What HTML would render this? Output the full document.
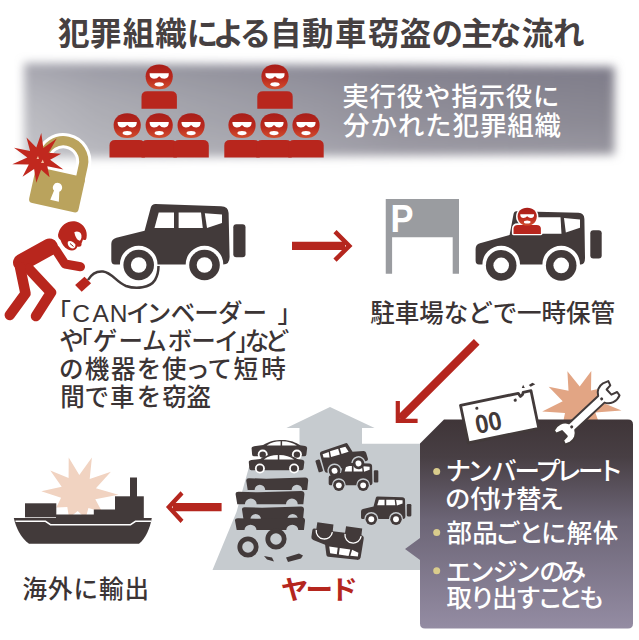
<!DOCTYPE html>
<html lang="ja">
<head>
<meta charset="utf-8">
<title>犯罪組織による自動車窃盗の主な流れ</title>
<style>
html,body{margin:0;padding:0;background:#fff;}
body{width:639px;height:640px;overflow:hidden;position:relative;}
svg{display:block;position:absolute;left:0;top:0;}
text{font-family:"Liberation Sans","Noto Sans CJK JP",sans-serif;}
.ttl{font-weight:700;font-size:31.5px;fill:#464041;}
.b{font-weight:500;font-size:24.5px;fill:#3b3435;}
.w{font-weight:500;font-size:25.5px;fill:#fff;}
.bn{font-weight:500;font-size:26.5px;fill:#fff;}
.yd{font-weight:700;font-size:26.5px;fill:#b5261e;}
.red{fill:#b8261d;}
.dk{fill:#423a3a;}
</style>
</head>
<body>
<svg width="639" height="640" viewBox="0 0 639 640">
<defs>
<linearGradient id="gBanner" x1="0" y1="0" x2="1" y2="0">
<stop offset="0" stop-color="#babac0"/>
<stop offset="0.12" stop-color="#adadb4"/>
<stop offset="0.3" stop-color="#a2a2aa"/>
<stop offset="0.5" stop-color="#9897a1"/>
<stop offset="0.64" stop-color="#8e8c97"/>
<stop offset="1" stop-color="#878590"/>
</linearGradient>
<linearGradient id="gBanT" x1="0" y1="0" x2="0" y2="1">
<stop offset="0" stop-color="#55536a" stop-opacity="0.2"/>
<stop offset="0.35" stop-color="#55536a" stop-opacity="0.04"/>
<stop offset="0.6" stop-color="#fff" stop-opacity="0.03"/>
<stop offset="1" stop-color="#fff" stop-opacity="0.16"/>
</linearGradient>
<linearGradient id="gBanV" x1="0" y1="0" x2="1" y2="1">
<stop offset="0" stop-color="#fff" stop-opacity="0.25"/>
<stop offset="0.45" stop-color="#fff" stop-opacity="0"/>
<stop offset="1" stop-color="#fff" stop-opacity="0"/>
</linearGradient>
<filter id="blur5" x="-10%" y="-30%" width="120%" height="160%"><feGaussianBlur stdDeviation="5"/></filter>
<filter id="blur2" x="-20%" y="-20%" width="140%" height="140%"><feGaussianBlur stdDeviation="2"/></filter>
<linearGradient id="gBox" x1="0" y1="0" x2="0" y2="1">
<stop offset="0" stop-color="#3f3538"/>
<stop offset="0.18" stop-color="#483f44"/>
<stop offset="0.48" stop-color="#6c6576"/>
<stop offset="1" stop-color="#948ca3"/>
</linearGradient>
<linearGradient id="gHead" x1="0" y1="0" x2="0" y2="1">
<stop offset="0" stop-color="#a81e19"/>
<stop offset="0.55" stop-color="#ba281d"/>
<stop offset="1" stop-color="#d24e2e"/>
</linearGradient>
<g id="thief">
<path d="M-17.7,32 V20 Q-17.7,14.5 -12,14.5 H12 Q17.7,14.5 17.7,20 V32 Z" fill="#b8261d"/>
<path d="M0,-12.3 C8.7,-12.3 13.6,-7 13.6,-0.5 C13.6,7.3 8.7,12.6 0,12.6 C-8.7,12.6 -13.6,7.3 -13.6,-0.5 C-13.6,-7 -8.7,-12.3 0,-12.3Z" fill="url(#gHead)"/>
<path d="M-9.6,-3.4 H9.6 Q9.8,1.8 5.2,2 Q2,2 0,-0.5 Q-2,2 -5.2,2 Q-9.8,1.8 -9.6,-3.4Z" fill="#fff"/>
<ellipse cx="0" cy="7.6" rx="4.6" ry="2.1" fill="#fff"/>
</g>
<g id="carbody">
<path d="M155.5,204 L221,206.2 Q228.4,206.5 228.6,213 L229.6,257 Q229.6,264.3 223.3,264.5 A18.8,18.8 0 0 0 185.7,264.5 L157.5,264.5 A18.8,18.8 0 0 0 119.9,264.5 L115,264.5 Q111.3,264.5 111.3,260 L111.3,244 Q111.3,239.3 116.4,237.8 L144.6,230.8 L150.8,207.5 Q151.8,204 155.5,204 Z" fill="#423a3a"/>
<circle cx="138.7" cy="265" r="15.3" fill="#423a3a"/>
<circle cx="204.5" cy="265" r="15.3" fill="#423a3a"/>
<circle cx="138.7" cy="265" r="7.8" fill="#fff"/>
<circle cx="204.5" cy="265" r="7.8" fill="#fff"/>
<rect x="233.3" y="224.3" width="12.2" height="33" rx="3" fill="#423a3a"/>
</g>
<g id="car1">
<use href="#carbody"/>
<path d="M158.7,212.6 H174 V227.9 H154.5 Z" fill="#fff"/>
<path d="M178.6,212.6 H201 L202.8,227.9 H178.6 Z" fill="#fff"/>
<path d="M204.8,213.3 L222,214.5 V223 L207,228 Z" fill="#fff"/>
</g>
<g id="sedan">
<path d="M0.5,8.5 Q0,6.8 3,6.3 L12,5.2 C18,1.2 24,0 31,0 C39,0 45,2.5 49,5.3 L54,6 Q56.3,6.3 56,8.5 L55.3,14.5 Q55,16.4 53,16.4 L3,16.4 Q1.2,16.4 1,14.5 Z" fill="#423a3a"/>
<path d="M15.5,5.6 C20,2.4 24,1.3 29.5,1.3 V5.6 Z M31,1.3 C37,1.3 42,3 45.8,5.6 H31 Z" fill="#fff"/>
<circle cx="11.6" cy="14.7" r="5" fill="#fff"/><circle cx="45.8" cy="14.7" r="5" fill="#fff"/>
<circle cx="11.6" cy="14.7" r="3.2" fill="#423a3a"/><circle cx="45.8" cy="14.7" r="3.2" fill="#423a3a"/>
</g>
<g id="flat">
<path d="M0,3 Q0,0.5 3,0.7 L20,1.3 L59,0 Q62,0 62,3 L61,12.5 H56 A5.3,5.3 0 0 0 45.4,12.5 H19 A5.3,5.3 0 0 0 8.4,12.5 H1.5 Z" fill="#423a3a"/>
</g>
<g id="arrowR">
<path d="M0,-4.2 H53 V4.2 H0Z" fill="#b5261e"/>
<path d="M43,-14.3 L57.3,0 L43,14.3" fill="none" stroke="#b5261e" stroke-width="4.5"/>
</g>
</defs>
<rect width="639" height="640" fill="#fff"/>

<!-- title -->
<text class="ttl" x="57.9 90.1 122.8 155.2 186.8 212.7 239.8 270.0 302.1 335.1 368.1 399.8 431.6 461.2 489.7 521.8 553.1" y="44.5">犯罪組織による自動車窃盗の主な流れ</text>

<!-- banner -->
<g filter="url(#blur5)"><path d="M24,63 L614.5,66.5 V154.5 L24,158 Z" fill="url(#gBanner)"/><path d="M24,63 L614.5,66.5 V154.5 L24,158 Z" fill="url(#gBanT)"/></g>
<g id="grp1">
<use href="#thief" x="159.2" y="76.7"/>
<use href="#thief" x="127.2" y="125.5"/>
<use href="#thief" x="159.2" y="125.5"/>
<use href="#thief" x="191.1" y="125.5"/>
</g>
<g id="grp2">
<use href="#thief" x="275" y="76.7"/>
<use href="#thief" x="242" y="125.5"/>
<use href="#thief" x="274" y="125.5"/>
<use href="#thief" x="306" y="125.5"/>
</g>
<text class="bn" x="342.2 369.5 396.7 424.0 451.3 478.5 505.8 533.1" y="106.3">実行役や指示役に</text>
<text class="bn" x="343.0 370.4 397.8 425.1 452.5 479.9 507.3 534.6" y="134.5">分かれた犯罪組織</text>

<!-- lock -->
<g transform="translate(60.25,175.1) rotate(12.5)">
<g stroke="#fff" stroke-linejoin="round" fill="#fff">
<rect x="-25.3" y="-3" width="50.6" height="36.3" rx="4" stroke-width="6"/>
<path d="M-20.4,2 V-14.3 A20.4,20.4 0 0 1 20.4,-14.3 V2" fill="none" stroke-width="15.2"/>
</g>
<path d="M-20.4,2 V-14.3 A20.4,20.4 0 0 1 20.4,-14.3 V2" fill="none" stroke="#baa35d" stroke-width="9.2"/>
<rect x="-25.3" y="-3" width="50.6" height="36.3" rx="4" fill="#baa35d"/>
<path d="M0,8 a4.7,4.7 0 0 1 2.7,8.5 L4.4,26.3 H-4.4 L-2.7,16.5 A4.7,4.7 0 0 1 0,8Z" fill="#fff"/>
</g>
<polygon points="41.3,133.1 43.3,148.1 56.7,138.5 48.6,152.8 61.1,153.7 50.1,159.7 63.4,169.5 47.3,166.3 49.6,177.3 41.1,169.8 36.3,182.8 34.1,169.1 22.5,176.7 28.8,164.4 12.3,164.3 27.3,157.5 14.0,147.7 30.1,150.9 26.5,137.6 36.3,147.4" fill="#c1281e"/>
<path d="M36.5,159 l1.5,-3 l1,3z M41,163 l1.8,-3.5 l1.2,3.5z" fill="#f0c0a0"/>

<!-- thief person -->
<g fill="none" stroke="#b8261d" stroke-linecap="round" stroke-linejoin="round">
<path d="M49.5,247 L21.5,262.5" stroke-width="17"/>
<path d="M55.5,249.5 L65,264 L80.5,266.8" stroke-width="9"/>
<path d="M29,269 L51,292.5 L36,316" stroke-width="10.5"/>
<path d="M20,267 L25.5,293.5 L9.8,315" stroke-width="10.5"/>
</g>
<path d="M58.5,233 C61,224 69,220 76,221.5 C84,223.5 88,231 86.5,238 C86,240.5 84.5,240.5 83,239.5 L81.5,243.5 C82,246 80,247.5 77.5,246.5 C76,250.5 72,251.5 68,249.5 C64,247.5 62,244 60.5,240 C58,238 57.5,235.5 58.5,233 Z" fill="#b8261d"/>
<path d="M74.3,232.3 C76.5,230.8 79.5,231.5 81,233.8 C82,236.2 81.5,239 80,240.8 C77.5,240.5 75.5,238 74.3,232.3 Z" fill="#fff"/>
<path d="M68,241.5 C70,240 73.5,241.5 75.3,244.5 C76,247 74,249 71.5,248.3 C69,247.3 67,244.5 68,241.5 Z" fill="#fff"/>
<path d="M70,243.5 L73.5,246.5" stroke="#8a1f18" stroke-width="1" fill="none"/>
<polygon points="75.1,285.1 84.5,276.7 91.1,283.2 81.7,291.7" fill="#b8261d"/>
<path d="M88,280 C92,273 98,271 103,271.5 C112,272.5 116,282 126,286 C136,289.5 150,288 155,280 C158,275 158.5,270 158.5,266" fill="none" stroke="#423a3a" stroke-width="2.5"/>

<!-- car 1 -->
<use href="#car1"/>

<!-- arrow right -->
<use href="#arrowR" x="292" y="245.9"/>

<!-- parking -->
<path d="M385.75,198.9 H459 V273.8 H452.7 V237.2 H392.1 V273.8 H385.75 Z" fill="#9a9ca0"/>
<text x="390.6" y="232.3" font-size="39.5" font-weight="700" fill="#fff" textLength="23" lengthAdjust="spacingAndGlyphs">P</text>

<!-- car 2 -->
<path d="M516.5,211.3 L578.5,212.8 Q584.2,213.1 584.4,219 L585,258 Q585,264.3 581,264.5 L580,264.5 A18.8,18.8 0 0 0 542.4,264.5 L520,264.5 A18.8,18.8 0 0 0 482.4,264.5 L479,264.5 Q475.6,264.5 475.6,260.5 L475.6,249 Q475.6,244.5 480,243.3 L509.6,234.9 L513.5,214.2 Q514,211.2 516.5,211.3 Z" fill="#423a3a"/>
<circle cx="501.2" cy="265.4" r="15.3" fill="#423a3a"/>
<circle cx="561.2" cy="265.4" r="15.3" fill="#423a3a"/>
<circle cx="501.2" cy="265.4" r="7.8" fill="#fff"/>
<circle cx="561.2" cy="265.4" r="7.8" fill="#fff"/>
<rect x="590.3" y="230.2" width="11.4" height="28.2" rx="3" fill="#423a3a"/>
<path d="M524,217.3 H560.5 L561.5,233.7 H520 Z" fill="#fff"/>
<path d="M564,218 L580,219.6 V227.8 L565.8,232.6 Z" fill="#fff"/>
<g transform="translate(527.2,216.6) scale(0.72)">
<g stroke="#fff" stroke-width="4.5" stroke-linejoin="round">
<path d="M-19,23.5 V17 Q-19,11.5 -13,11.5 H13 Q19,11.5 19,17 V23.5 Z" fill="#fff"/>
<ellipse cx="0" cy="0" rx="13.3" ry="12.4" fill="#fff"/>
</g>
<path d="M-19,24.3 V17 Q-19,11.5 -13,11.5 H13 Q19,11.5 19,17 V24.3 Z" fill="#b8261d"/>
<path d="M0,-12.3 C8.5,-12.3 13.3,-7 13.3,-0.5 C13.3,7 8.5,12.5 0,12.5 C-8.5,12.5 -13.3,7 -13.3,-0.5 C-13.3,-7 -8.5,-12.3 0,-12.3Z" fill="url(#gHead)"/>
<path d="M-9.6,-3.4 H9.6 Q9.8,1.8 5.2,2 Q2,2 0,-0.5 Q-2,2 -5.2,2 Q-9.8,1.8 -9.6,-3.4Z" fill="#fff"/>
<ellipse cx="0" cy="7.6" rx="4.6" ry="2.1" fill="#fff"/>
</g>

<!-- left text -->
<text class="b" x="46.4 72.3 92.5 109.8 126.0 146.7 170.7 194.3 217.9 242.6 277.5" y="322.0">「CANインベーダー」</text>
<text class="b" x="59.2 68.0 92.8 118.6 142.3 167.7 191.3 214.4 235.6 244.8 264.8" y="350.2">や「ゲームボーイ」など</text>
<text class="b" x="58.9 84.7 111.0 136.8 162.1 185.3 207.4 233.5 261.2" y="378.4">の機器を使って短時</text>
<text class="b" x="60.2 84.6 110.1 136.8 162.3 186.4" y="406.2">間で車を窃盗</text>

<!-- right text -->
<text class="b" x="370.3 394.8 419.2 443.7 468.2 492.7 517.1 541.6 566.1 590.6" y="322.0">駐車場などで一時保管</text>

<!-- diagonal arrow -->
<path d="M476.7,341.9 L400,418.6" stroke="#b5261e" stroke-width="8" fill="none"/>
<path d="M397.8,401 V420.8 H417.6" stroke="#b5261e" stroke-width="4.2" fill="none"/>

<!-- yard -->
<path d="M212.5,570 L236.5,512 L249,467 H299.5 V428 H286.4 L330,407 L374.6,428 H362 V443.7 H421 V570 Z" fill="#c6cbcf"/>
<g id="yardcars">
<use href="#sedan" x="251.1" y="439.9"/>
<use href="#sedan" x="248.3" y="453.8"/>
<use href="#flat" x="246.2" y="477.5"/>
<use href="#flat" transform="translate(235.6,491) scale(1.11,1.05)"/>
<use href="#flat" transform="translate(242,506.5) scale(1,1.03)"/>
<use href="#flat" transform="translate(235,517.5) scale(1.13,1)"/>
<circle cx="248" cy="547" r="8.2" fill="none" stroke="#423a3a" stroke-width="4.8"/>
<circle cx="276" cy="539" r="8.2" fill="none" stroke="#423a3a" stroke-width="4.8"/>
<path d="M264,556 l8,1.5 l2,4 l-7,-2z M286,557.5 l13,-4 l4,2 l-2,3 l-13,3.5z" fill="#423a3a"/>
<use href="#car1" transform="translate(287.5,387.3) scale(0.37)"/>
<use href="#car1" transform="translate(341.5,459.5) rotate(-17) scale(-0.38,0.38) translate(-178.4,-242)"/>
<use href="#car1" transform="translate(319.3,419.9) scale(0.375)"/>
<g transform="translate(340.5,542) rotate(8) scale(0.44,-0.43) translate(-178.4,-242)">
<path d="M155.5,204 L221,206.2 Q228.4,206.5 228.6,213 L229.6,257 Q229.6,264.3 223.3,264.5 L223,280 H186 L185.7,264.5 L157.5,264.5 L157,280 H120 L119.9,264.5 L115,264.5 Q111.3,264.5 111.3,260 L111.3,244 Q111.3,239.3 116.4,237.8 L144.6,230.8 L150.8,207.5 Q151.8,204 155.5,204 Z" fill="#423a3a"/>
<path d="M158.7,212.6 H174 V227.9 H154.5 Z M178.6,212.6 H201 L202.8,227.9 H178.6 Z M204.8,213.3 L222,214.5 V223 L207,228 Z" fill="#fff"/>
<path d="M120,262 A18,18 0 0 1 157,262 M186,262 A18,18 0 0 1 223,262" fill="none" stroke="#fff" stroke-width="3"/>
</g>
</g>

<!-- ship -->
<polygon points="91.9,457.4 89.7,478.9 110.9,471.7 95.9,488.2 118.4,494.8 95.3,499.3 102.2,512.0 88.4,508.0 85.6,518.6 77.7,511.0 69.1,517.9 67.3,507.1 56.3,507.6 61.1,497.8 41.3,491.3 61.7,486.7 50.3,470.5 68.6,478.0 68.7,457.5 79.3,475.0" fill="#f1d3c1"/>
<g fill="#423a3a">
<rect x="25" y="503.3" width="31.3" height="14"/>
<rect x="56" y="514.5" width="40" height="4"/>
<rect x="93.8" y="509.5" width="22" height="9"/>
<rect x="115" y="496.3" width="28.8" height="22"/>
<rect x="130" y="477.5" width="7" height="20"/>
<path d="M13.8,518 H151.8 C150,528 146,538 139,543.8 H29 C21,538 16,528 13.8,518Z"/>
</g>
<path d="M15.5,521.3 H45.5 L50.5,524.7 H130.5 L135.5,521.3 H151" fill="none" stroke="#fff" stroke-width="1.4"/>
<text class="b" x="22.5 48.1 73.6 99.1 124.6" y="598.0">海外に輸出</text>

<!-- arrow left -->
<g transform="translate(221.6,507.1) scale(-0.92,1)"><use href="#arrowR"/></g>

<text class="yd" x="269.9 293.7 317.5" y="598.6" transform="scale(1.040,1)">ヤード</text>

<!-- burst behind wrench -->
<polygon points="591.3,370.9 591.0,390.4 608.5,386.8 597.2,400.6 621.5,410.5 595.3,412.5 600.7,427.7 586.3,420.3 580.5,432.0 574.3,420.6 562.4,425.8 565.0,413.0 542.2,411.4 562.7,401.3 548.7,386.7 568.5,390.8 567.4,371.3 579.7,386.5" fill="#e2a584"/>

<!-- box -->
<path d="M444,419.6 H628 Q633,419.6 633,424.6 V623.5 Q633,628.5 628,628.5 H425 Q420,628.5 420,623.5 V560 L405,549 L420,538 V443.6 Z" fill="url(#gBox)"/>

<!-- plate -->
<g transform="translate(460.5,405.3) rotate(-11.7)">
<path d="M0,0 H59 l1.5,3.5 l2.5,-1.5 l1,-2 H72 V38.4 H0 Z" fill="#fff" stroke="#423a3a" stroke-width="2.8" stroke-linejoin="round"/>
<path d="M63.5,-4.5 l2,-3 l1,3.5z M71,-6 l4,-1.5 l2.5,2 l-5,1.5z" fill="#423a3a"/>
<circle cx="15.4" cy="6.2" r="1.6" fill="#423a3a"/>
<circle cx="54.6" cy="6.1" r="1.6" fill="#423a3a"/>
<text x="10.6" y="31.5" font-size="26" font-weight="700" fill="#423a3a" textLength="26.5" lengthAdjust="spacingAndGlyphs">00</text>
</g>

<!-- wrench -->
<g transform="translate(586.7,412.9) rotate(-43)">
<g fill="#fff" stroke="#423a3a" stroke-width="2" stroke-linejoin="round">
<path d="M-20,-4.6 H20 C22,-9 27,-11.5 32,-10.5 L37.5,-8.5 L36,-4 L30.5,-3.5 L30.5,3.5 L36.5,5.5 L36,9.5 C30,12.5 23,10 20,4.6 H-20 C-22,9 -27,11.5 -32,10.5 L-37.5,8.5 L-36,4 L-30.5,3.5 L-30.5,-3.5 L-36.5,-5.5 L-36,-9.5 C-30,-12.5 -23,-10 -20,-4.6 Z"/>
</g>
<circle cx="-20.5" cy="0" r="1.5" fill="#423a3a"/>
<circle cx="20.5" cy="0" r="1.5" fill="#423a3a"/>
</g>

<!-- box text -->
<g fill="#d9cc8c">
<circle cx="436.7" cy="471.4" r="3.5"/>
<circle cx="436.7" cy="532.4" r="3.5"/>
<circle cx="436.7" cy="570.8" r="3.5"/>
</g>
<text class="w" x="445.6 467.3 491.3 514.4 535.3 556.1 577.9 597.8" y="479.8">ナンバープレート</text>
<text class="w" x="445.0 469.9 492.0 516.0 538.6" y="507.9">の付け替え</text>
<text class="w" x="446.6 472.3 495.1 518.2 541.0 566.7 592.8" y="542.2">部品ごとに解体</text>
<text class="w" x="445.8 469.0 492.5 515.3 539.3 560.7" y="581.3">エンジンのみ</text>
<text class="w" x="446.6 469.7 492.0 515.4 537.5 557.6 579.0" y="606.6">取り出すことも</text>

</svg>
</body>
</html>
